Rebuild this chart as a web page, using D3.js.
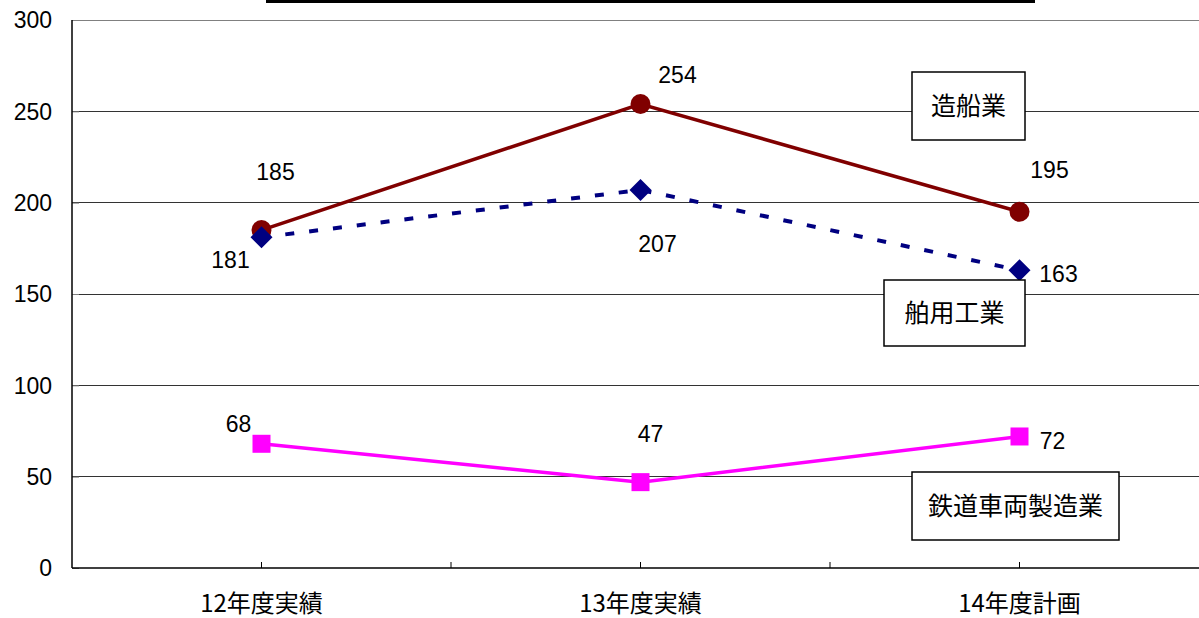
<!DOCTYPE html>
<html><head><meta charset="utf-8">
<script src="https://cdn.jsdelivr.net/npm/d3@7"></script>
<style>
html,body{margin:0;padding:0;background:#fff;}
svg{display:block;}
text{font-family:"Liberation Sans",Arial,sans-serif;fill:#000;}
.jp{font-family:"Noto Sans CJK JP","Liberation Sans",sans-serif;}
</style></head>
<body>
<svg id="c" width="1199" height="618"></svg>
<script>
const categories = ["12年度実績","13年度実績","14年度計画"];
const shipbuilding = [185,254,195];
const marine = [181,207,163];
const railway = [68,47,72];
const yTicks = [0,50,100,150,200,250,300];
const seriesNames = ["造船業","舶用工業","鉄道車両製造業"];

(function(){
const svg = d3.select("#c");
const pL = 72, pR = 1209, pT = 20, pB = 568;
const x = d3.scaleBand().domain(categories).range([pL,pR]);
const cx = d => x(d) + x.bandwidth()/2;
const y = d3.scaleLinear().domain([0,300]).range([pB,pT]);

svg.append("rect").attr("x",266).attr("y",0).attr("width",769).attr("height",3).attr("fill","#000");

svg.append("g").selectAll("line").data(yTicks.filter(t=>t>0)).join("line")
  .attr("x1",pL).attr("x2",1199).attr("y1",d=>y(d)).attr("y2",d=>y(d))
  .attr("stroke",d=>d===300?"#808080":"#333").attr("stroke-width",1).attr("shape-rendering","crispEdges");

const ya = svg.append("g").attr("transform",`translate(${pL},0)`)
  .call(d3.axisRight(y).tickValues(yTicks).tickSize(7).tickFormat(""));
ya.select(".domain").remove();
ya.selectAll("line").attr("stroke","#808080");
svg.append("line").attr("x1",pL).attr("x2",pL).attr("y1",pT).attr("y2",pB).attr("stroke","#000").attr("stroke-width",1.5);
svg.append("g").selectAll("text").data(yTicks).join("text")
  .attr("x",52).attr("y",d=>y(d)).attr("dy","0.36em").attr("text-anchor","end")
  .attr("font-size",23).text(d=>d);

svg.append("line").attr("x1",pL).attr("x2",1199).attr("y1",pB).attr("y2",pB).attr("stroke","#000").attr("stroke-width",1.5);
const xTickPos = [];
categories.forEach((c,i)=>{ xTickPos.push(cx(c)); if(i<categories.length-1) xTickPos.push(x(categories[i+1])); });
svg.append("g").selectAll("line").data(xTickPos).join("line")
  .attr("x1",d=>d).attr("x2",d=>d).attr("y1",pB-6).attr("y2",pB).attr("stroke","#000");
svg.append("g").selectAll("text").data(categories).join("text").attr("class","jp")
  .attr("x",d=>cx(d)).attr("y",603).attr("dy","0.36em").attr("text-anchor","middle")
  .attr("font-size",24).text(d=>d);

const line = d3.line().x((d,i)=>cx(categories[i])).y(d=>y(d));

svg.append("path").datum(shipbuilding).attr("d",line).attr("fill","none").attr("stroke","#800000").attr("stroke-width",3.5);
svg.append("path").datum(marine).attr("d",line).attr("fill","none").attr("stroke","#000080").attr("stroke-width",4).attr("stroke-dasharray","9,15");
svg.append("path").datum(railway).attr("d",line).attr("fill","none").attr("stroke","#FF00FF").attr("stroke-width",3.5);

svg.append("g").selectAll("circle").data(shipbuilding).join("circle")
  .attr("cx",(d,i)=>cx(categories[i])).attr("cy",d=>y(d)).attr("r",10).attr("fill","#800000");
svg.append("g").selectAll("path").data(marine).join("path")
  .attr("d","M0,-11L11,0L0,11L-11,0Z")
  .attr("transform",(d,i)=>`translate(${cx(categories[i])},${y(d)})`).attr("fill","#000080");
svg.append("g").selectAll("rect").data(railway).join("rect")
  .attr("x",(d,i)=>cx(categories[i])-9).attr("y",d=>y(d)-9).attr("width",18).attr("height",18).attr("fill","#FF00FF");

const labelOff = {
  ship: [[14,-58],[37,-29],[30,-42]],
  marine: [[-31,22],[17,54],[39,3]],
  rail: [[-23,-20],[10,-48],[33,4]]
};
function labels(data,off){
  svg.append("g").selectAll("text").data(data).join("text")
    .attr("x",(d,i)=>cx(categories[i])+off[i][0]).attr("y",(d,i)=>y(d)+off[i][1])
    .attr("dy","0.36em").attr("text-anchor","middle").attr("font-size",23).text(d=>d);
}
labels(shipbuilding,labelOff.ship);
labels(marine,labelOff.marine);
labels(railway,labelOff.rail);

const boxes = [
  {name:seriesNames[0], x:912, y:72, w:113, h:68},
  {name:seriesNames[1], x:884, y:280, w:141, h:66},
  {name:seriesNames[2], x:912, y:472, w:207, h:68}
];
const bg = svg.append("g").selectAll("g").data(boxes).join("g");
bg.append("rect").attr("x",d=>d.x).attr("y",d=>d.y).attr("width",d=>d.w).attr("height",d=>d.h)
  .attr("fill","#fff").attr("stroke","#000").attr("stroke-width",1.5);
bg.append("text").attr("class","jp").attr("x",d=>d.x+d.w/2).attr("y",d=>d.y+d.h/2).attr("dy","0.36em")
  .attr("text-anchor","middle").attr("font-size",25).text(d=>d.name);
})();
</script>
</body></html>
